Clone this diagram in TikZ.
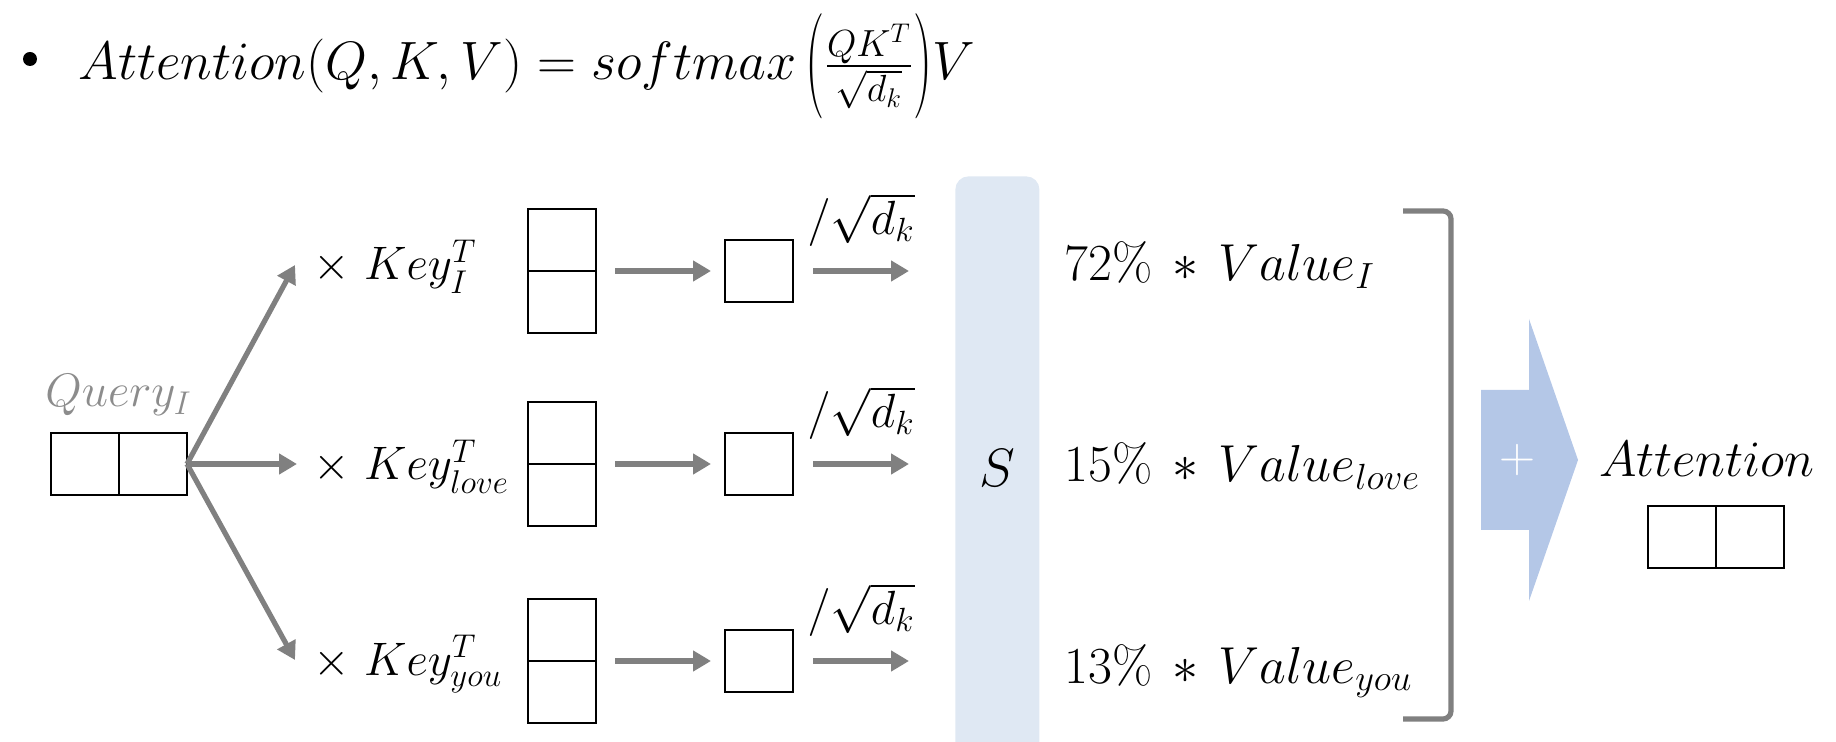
\RequirePackage{fix-cm}
\documentclass[tikz,border=0pt]{standalone}
\usepackage{graphicx}
\usepackage{amsmath}
\usetikzlibrary{arrows.meta}
\definecolor{arrgray}{HTML}{808080}
\definecolor{qgray}{HTML}{8C8C8C}
\definecolor{sband}{HTML}{DFE8F3}
\definecolor{bigarr}{HTML}{B4C7E7}
\newcommand{\tallopen}{\mathopen{\vcenter{\hbox{\scalebox{1}[1.95]{$($}}}}}
\newcommand{\tallclose}{\mathclose{\vcenter{\hbox{\scalebox{1}[1.95]{$)$}}}}}
\begin{document}
\begin{tikzpicture}[x=0.5pt,y=-0.5pt,
  cell/.style={draw=black, line width=1.2pt, inner sep=0pt, outer sep=0pt, minimum width=34pt, minimum height=31pt},
  garrow/.style={draw=arrgray, line width=2.6pt, -{Triangle[length=9pt,width=10pt]}},
  lbl/.style={inner sep=0pt, anchor=base west, font=\fontsize{23.5}{28.2}\selectfont},
  vlbl/.style={inner sep=0pt, anchor=base west, font=\fontsize{26}{31.2}\selectfont},
  dkl/.style={inner sep=0pt, font=\fontsize{24}{28.8}\selectfont},
]
\useasboundingbox (0,0) rectangle (1836,742);
\clip (0,0) rectangle (1836,742);

% title formula
\node[circle, fill=black, inner sep=0pt, minimum size=7pt] (bul) at (30,59) {};
\node[inner sep=0pt, anchor=base west, font=\fontsize{27}{32.4}\selectfont] (formula) at (78,80)
  {$Attention(Q,K,V)=softmax\,\tallopen\frac{QK^{T}}{\sqrt{d_k}}\tallclose V$};

% query
\node[lbl, text=qgray] (ql) at (45,407) {$Query_{I}$};
\node[cell] (q1) at (85,464) {};
\node[cell] (q2) at (153,464) {};

\coordinate (t1) at (295,265);
\coordinate (t2) at (297,464);
\coordinate (t3) at (295,660);
\draw[garrow] (q2.east) -- (t1);
\draw[garrow] (q2.east) -- (t2);
\draw[garrow] (q2.east) -- (t3);

% key labels
\node[lbl] (kl1) at (313,280) {$\times\ Key^{T}_{I}$};
\node[lbl] (kl2) at (313,480) {$\times\ Key^{T}_{love}$};
\node[lbl] (kl3) at (313,675) {$\times\ Key^{T}_{you}$};

% key boxes
\node[cell] (k1a) at (562,240) {};
\node[cell] (k1b) at (562,302) {};
\node[cell] (k2a) at (562,433) {};
\node[cell] (k2b) at (562,495) {};
\node[cell] (k3a) at (562,630) {};
\node[cell] (k3b) at (562,692) {};

% score boxes
\node[cell] (s1) at (759,271) {};
\node[cell] (s2) at (759,464) {};
\node[cell] (s3) at (759,661) {};

\draw[garrow] ([xshift=9.5pt]k1b.north east) -- ([xshift=-7pt]s1.west);
\draw[garrow] ([xshift=9.5pt]k2b.north east) -- ([xshift=-7pt]s2.west);
\draw[garrow] ([xshift=9.5pt]k3b.north east) -- ([xshift=-7pt]s3.west);

\draw[garrow] ([xshift=10pt]s1.east) -- ([xshift=58pt]s1.east)
  node[dkl, midway, above=11pt] (d1) {$/\sqrt{d_k}$};
\draw[garrow] ([xshift=10pt]s2.east) -- ([xshift=58pt]s2.east)
  node[dkl, midway, above=11pt] (d2) {$/\sqrt{d_k}$};
\draw[garrow] ([xshift=10pt]s3.east) -- ([xshift=58pt]s3.east)
  node[dkl, midway, above=11pt] (d3) {$/\sqrt{d_k}$};

% softmax band
\node[fill=sband, rounded corners=6.5pt, minimum width=42pt, minimum height=302pt,
  inner sep=0pt, anchor=north west] (band) at (955,176) {};
\node[anchor=base, inner sep=0pt, font=\fontsize{27}{32.4}\selectfont] (S) at (997,487) {$S$};

% weighted values
\node[vlbl] (v1) at (1064,281) {$72\%\,\ast\,Value_{I}$};
\node[vlbl] (v2) at (1064,482) {$15\%\,\ast\,Value_{love}$};
\node[vlbl] (v3) at (1064,683) {$13\%\,\ast\,Value_{you}$};

% bracket
\draw[draw=arrgray, line width=2.6pt, rounded corners=4pt]
  (1403,211) -- (1451,211) -- (1451,719) -- (1403,719);

% big arrow
\fill[bigarr] (1481,390) -- (1529,390) -- (1529,319) -- (1578,460) -- (1529,601)
  -- (1529,530) -- (1481,530) -- cycle;
\node[text=white, inner sep=0pt, font=\fontsize{25}{30}\selectfont] (plus) at (1517,460) {$+$};

% attention output
\node[inner sep=0pt, anchor=base west, font=\fontsize{25.5}{30.6}\selectfont] (att) at (1599,477) {$Attention$};
\node[cell] (a1) at (1682,537) {};
\node[cell] (a2) at (1750,537) {};
\end{tikzpicture}
\end{document}
